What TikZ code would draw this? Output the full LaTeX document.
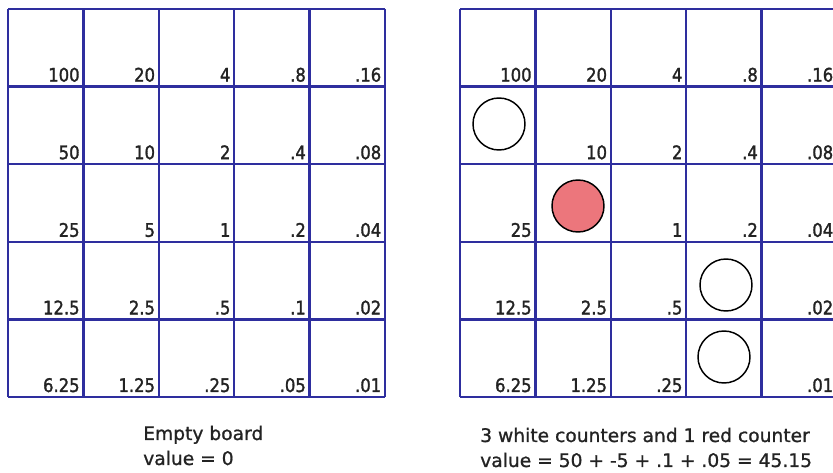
\documentclass[tikz,border=0pt]{standalone}
\usepackage{fontspec}
\setmainfont{DejaVu Sans}
\newfontfamily\numfont[FakeStretch=0.88,FakeBold=1.6]{DejaVu Sans}
\newfontfamily\capfont[FakeBold=1.0]{DejaVu Sans}
\definecolor{gridblue}{RGB}{46,46,158}
\definecolor{counterred}{RGB}{236,118,124}
\definecolor{textgray}{RGB}{35,35,35}
\tikzset{
  boardline/.style={draw=gridblue, line width=1.7pt},
  num/.style={anchor=base east, inner sep=0pt, text=textgray, font=\numfont\fontsize{14}{16}\selectfont},
  caption/.style={anchor=base west, inner sep=0pt, align=left, text=textgray, font=\capfont\fontsize{14}{18.75}\selectfont},
  whitecounter/.style={circle, draw=black, line width=1.1pt, fill=white, minimum size=52*0.75pt, inner sep=0pt},
  redcounter/.style={whitecounter, fill=counterred},
}
\def\skipmark{x}
\begin{document}
\begin{tikzpicture}[x=0.75pt, y=-0.75pt]
\clip (0,0) rectangle (833,473);
\fill[white] (0,0) rectangle (833,473);
% left board
\foreach \i in {0,...,5} {
  \draw[boardline] ({8+75.4*\i},9) -- ({8+75.4*\i},397);
  \draw[boardline] (8,{9+77.6*\i}) -- (385,{9+77.6*\i});
}
% right board
\foreach \i in {0,...,5} {
  \draw[boardline] ({460+75.4*\i},9) -- ({460+75.4*\i},397);
  \draw[boardline] (460,{9+77.6*\i}) -- (837,{9+77.6*\i});
}
% left labels
\foreach \row [count=\r] in {{100,20,4,.8,.16},{50,10,2,.4,.08},{25,5,1,.2,.04},{12.5,2.5,.5,.1,.02},{6.25,1.25,.25,.05,.01}} {
  \foreach \v [count=\c] in \row {
    \node[num] (L-\r-\c) at ({8+75.4*\c-3.5},{9+77.6*\r-5}) {\v};
  }
}
% right labels
\foreach \row [count=\r] in {{100,20,4,.8,.16},{x,10,2,.4,.08},{25,x,1,.2,.04},{12.5,2.5,.5,x,.02},{6.25,1.25,.25,x,.01}} {
  \foreach \v [count=\c] in \row {
    \ifx\v\skipmark\else
      \node[num] (R-\r-\c) at ({460+75.4*\c-3.5},{9+77.6*\r-5}) {\v};
    \fi
  }
}
% counters
\node[whitecounter] (w1) at (499,124) {};
\node[redcounter] (r1) at (578,206) {};
\node[whitecounter] (w2) at (726,285) {};
\node[whitecounter] (w3) at (724,357) {};
% captions (base anchor sits on the last line)
\node[caption] (capL) at (143,465) {Empty board\\value = 0};
\node[caption] (capR) at (480,467) {3 white counters and 1 red counter\\value = 50 + -5 + .1 + .05 = 45.15};
\end{tikzpicture}
\end{document}
